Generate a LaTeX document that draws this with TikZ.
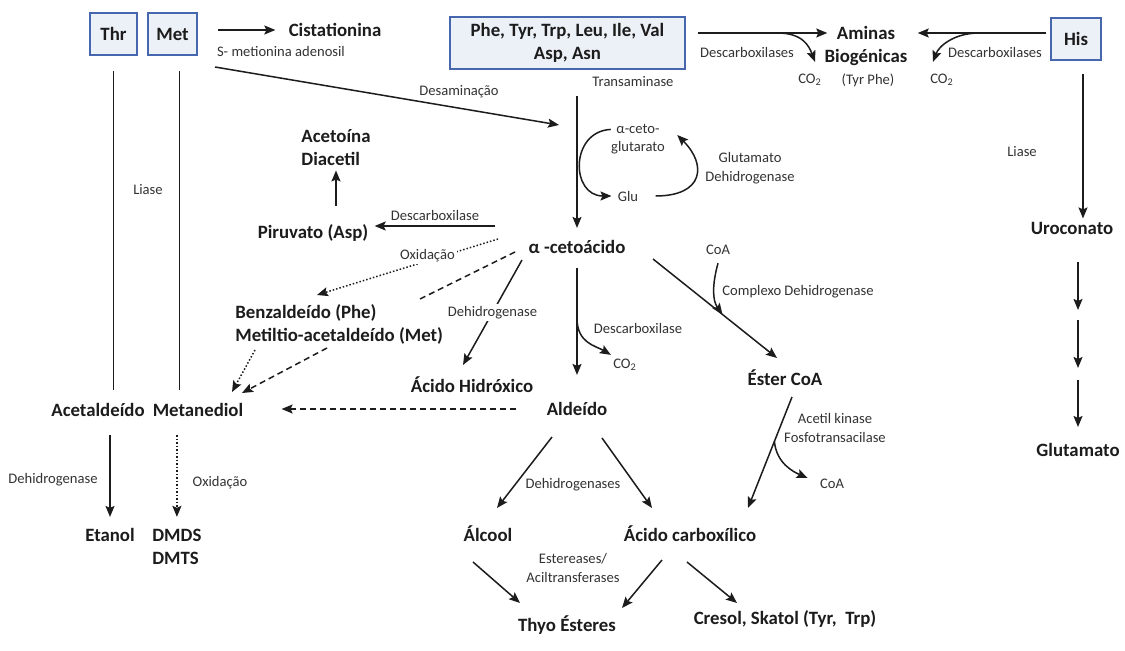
\documentclass[tikz,border=0pt]{standalone}
\usepackage{fontspec}
\setmainfont{Carlito}
\usetikzlibrary{arrows.meta,positioning,calc}

\definecolor{boxblue}{HTML}{4667AE}
\definecolor{boxfill}{HTML}{ECF0F7}
\definecolor{ink}{HTML}{1C1C1C}

\tikzset{
  box/.style={draw=boxblue, fill=boxfill, line width=1pt, text=ink, align=center,
    font=\bfseries\fontsize{9.4}{11.5}\selectfont},
  chem/.style={font=\bfseries\fontsize{9.4}{11.5}\selectfont, text=ink, inner sep=0pt, align=center},
  enz/.style={font=\fontsize{7.3}{9.3}\selectfont, text=ink!90, inner sep=0pt, align=center},
  arr/.style={draw=ink, line width=0.75pt, -{Stealth[length=5.5pt,width=4.5pt,inset=1pt]}},
  ln/.style={draw=ink, line width=0.75pt},
  dsh/.style={dash pattern=on 3pt off 2pt},
  dts/.style={densely dotted},
}

\begin{document}
\begin{tikzpicture}[x=0.5pt,y=-0.5pt]
        \fill[white] (0,0) rectangle (1125,651);
        \useasboundingbox (0,0) rectangle (1125,651);
        % Amino acid boxes
        \node[box, minimum width=23.5pt, minimum height=21pt] (thr) at (113.5,34) {Thr};
        \node[box, minimum width=24.5pt, minimum height=21pt] (met) at (172.5,34) {Met};
        \node[box, minimum width=117.5pt, minimum height=23pt] (aa) at (567.5,43) {Phe, Tyr, Trp, Leu, Ile, Val\\Asp, Asn};
        \node[box, minimum width=25pt, minimum height=21pt] (his) at (1076,39) {His};
        % Compounds
        \node[chem] (cist) at (335,30) {Cistationina};
        \node[chem, align=left] (acet) at (336,148) {Acetoína\\Diacetil};
        \node[chem] (piru) at (313,233) {Piruvato (Asp)};
        \node[chem] (aceto) at (577,247) {α -cetoácido};
        \node[chem] (aminas) at (866,46) {Aminas\\Biogénicas};
        \node[chem, align=left, anchor=west] (benz) at (235,324) {Benzaldeído (Phe)\\Metiltio-acetaldeído (Met)};
        \node[chem] (hidrox) at (472,385) {Ácido Hidróxico};
        \node[chem] (ester) at (785,378) {Éster CoA};
        \node[chem] (aldeido) at (577,409) {Aldeído};
        \node[chem] (acetal) at (98,410) {Acetaldeído};
        \node[chem] (metan) at (198,410) {Metanediol};
        \node[chem] (etanol) at (110,535) {Etanol};
        \node[chem, align=left, anchor=west] (dmds) at (152,547) {DMDS\\DMTS};
        \node[chem] (alcool) at (488,534) {Álcool};
        \node[chem] (acarb) at (690,534) {Ácido carboxílico};
        \node[chem] (thyo) at (567,625) {Thyo Ésteres};
        \node[chem] (cresol) at (785,619) {Cresol, Skatol (Tyr,\ \ Trp)};
        \node[chem] (urocon) at (1072,228) {Uroconato};
        \node[chem] (glutam) at (1078,450) {Glutamato};
        % Enzymes and small labels
        \node[enz] (sma) at (281,51) {S- metionina adenosil};
        \node[enz] (desam) at (459,92) {Desaminação};
        \node[enz] (transam) at (633,82) {Transaminase};
        \node[enz] (akg) at (638,139) {α-ceto-\\glutarato};
        \node[enz] (glu) at (628,196) {Glu};
        \node[enz] (gdh) at (750,168) {Glutamato\\Dehidrogenase};
        \node[enz] (descA) at (747,52) {Descarboxilases};
        \node[enz] (descH) at (995,52) {Descarboxilases};
        \node[enz] (co2a) at (810,80) {CO\textsubscript{2}};
        \node[enz] (tyrphe) at (868,80) {(Tyr Phe)};
        \node[enz] (co2b) at (942,80) {CO\textsubscript{2}};
        \node[enz] (liaseL) at (148,190) {Liase};
        \node[enz] (liaseR) at (1022,152) {Liase};
        \node[enz] (descP) at (435,215) {Descarboxilase};
        \node[enz] (descV) at (638,328) {Descarboxilase};
        \node[enz] (co2c) at (625,365) {CO\textsubscript{2}};
        \node[enz] (coa1) at (718,250) {CoA};
        \node[enz] (complexo) at (798,292) {Complexo Dehidrogenase};
        \node[enz] (acetilk) at (835,428) {Acetil kinase\\Fosfotransacilase};
        \node[enz] (coa2) at (832,484) {CoA};
        \node[enz] (dehidR) at (573,485) {Dehidrogenases};
        \node[enz] (estlab) at (573,568) {Estereases/\\Aciltransferases};
        \node[enz] (dehidL) at (53,480) {Dehidrogenase};
        \node[enz] (oxid2) at (220,483) {Oxidação};
        % Free ends
        \coordinate (desS) at (215,67);
        \coordinate (desE) at (559,125);
        \coordinate (piruS) at (495,226);
        \coordinate (oxS) at (498,239);
        \coordinate (oxE) at (317,295);
        \coordinate (dashS) at (515,252);
        \coordinate (dashE) at (420,299);
        \coordinate (dhS) at (522,260);
        \coordinate (dhE) at (463,365);
        \coordinate (esS) at (653,259);
        \coordinate (esE) at (777,358);
        \coordinate (bzS1) at (255,350);
        \coordinate (bzE1) at (232,392);
        \coordinate (bzS2) at (327,348);
        \coordinate (bzE2) at (242,393);
        \coordinate (akS) at (792,397);
        \coordinate (akE) at (748,508);
        \coordinate (alS1) at (552,437);
        \coordinate (alE1) at (497,508);
        \coordinate (alS2) at (602,438);
        \coordinate (alE2) at (652,508);
        \coordinate (thS1) at (473,562);
        \coordinate (thE1) at (520,603);
        \coordinate (thS2) at (662,560);
        \coordinate (thE2) at (622,608);
        \coordinate (crS) at (687,562);
        \coordinate (crE) at (737,603);
        % Top row
        \draw[arr] ([xshift=10pt]met.east |- cist) -- ([xshift=-6.5pt]cist.west);
        \draw[arr] (desS) -- (desE);
        \draw[arr] ([xshift=6pt,yshift=5pt]aa.east) -- coordinate[pos=0.615] (aaB) ([xshift=1.5pt,yshift=6.5pt]aminas.west);
        \draw[arr] (aaB) .. controls +(25,0) and +(-6,-16) .. ([xshift=2.5pt,yshift=6pt]co2a.north);
        \draw[arr] ([xshift=-2pt,yshift=3pt]his.west) -- coordinate[pos=0.52] (hisB) ([xshift=5pt,yshift=6.5pt]aminas.east);
        \draw[arr] (hisB) .. controls +(-25,0) and +(6,-16) .. ([xshift=-4.5pt,yshift=6pt]co2b.north);
        % Thr and Met lines
        \draw[ln] ([yshift=-7.5pt]thr.south) -- ([yshift=6.5pt]thr.south |- acetal.north);
        \draw[ln] ([xshift=3.5pt,yshift=-7.5pt]met.south) -- ([xshift=3.5pt,yshift=6.5pt]met.south |- metan.north);
        \draw[arr] ([yshift=-9pt]etanol.north |- acetal.south) -- ([yshift=5.5pt]etanol.north);
        \draw[arr, dts] ([yshift=-9pt]dmds.north |- metan.south) -- ([yshift=6pt]dmds.north);
        % Transaminase and glutamate cycle
        \draw[arr] ([yshift=-13pt]aceto.north |- aa.south) -- ([yshift=6pt]aceto.north);
        \draw[arr] ([yshift=-3pt]akg.north west) .. controls +(-41,2) and +(-41,0) .. ([xshift=-3pt]glu.west);
        \draw[arr] ([xshift=8.5pt]glu.east) .. controls +(48,0) and +(30,30) .. ([xshift=6pt,yshift=2pt]akg.east);
        % From alpha-ketoacid
        \draw[arr] (piruS) -- ([xshift=3pt]piruS -| piru.east);
        \draw[arr] ([yshift=9pt]acet.south |- piru.north) -- ([yshift=-2pt]acet.south);
        \draw[arr, dts] (oxS) -- node[pos=0.39, enz, fill=white, inner sep=1pt, yshift=2.5pt] (oxid1) {Oxidação} (oxE);
        \draw[ln, dsh] (dashS) -- (dashE);
        \draw[arr] (dhS) -- node[enz, fill=white, inner sep=1pt] (dehid) {Dehidrogenase} (dhE);
        \draw[arr] ([yshift=-7pt]aceto.south) -- coordinate[pos=0.47] (dcB) ([yshift=13.5pt]aldeido.north);
        \draw[arr] (dcB) .. controls +(0,25) and +(-15,-9) .. ([xshift=-1pt,yshift=2pt]co2c.north west);
        \draw[arr] (esS) -- coordinate[pos=0.56] (coaB) (esE);
        \draw[arr] ([yshift=-4pt]coa1.south) .. controls +(-6,22) and +(-10,-14) .. (coaB);
        % Towards Metanediol
        \draw[arr, dts] (bzS1) -- (bzE1);
        \draw[arr, dsh] (bzS2) -- (bzE2);
        \draw[arr, dsh] ([xshift=-15pt]aldeido.west) -- ([xshift=19pt]metan.east |- aldeido.west);
        % Lower part
        \draw[arr] (akS) -- coordinate[pos=0.4] (akB) (akE);
        \draw[arr] (akB) .. controls +(2,22) and +(-14,-6) .. ([xshift=-6pt,yshift=3pt]coa2.west);
        \draw[arr] (alS1) -- (alE1);
        \draw[arr] (alS2) -- (alE2);
        \draw[arr] (thS1) -- (thE1);
        \draw[arr] (thS2) -- (thE2);
        \draw[arr] (crS) -- (crE);
        % Histidine
        \draw[arr] ([xshift=3.5pt,yshift=-6.5pt]his.south) -- ([xshift=3.5pt,yshift=1.5pt]his.south |- urocon.north);
        \foreach \a/\b in {262/310,320/368,380/427}
            \draw[arr] (glutam.north |- 0,\a) -- (glutam.north |- 0,\b);
    \end{tikzpicture}
\end{document}
